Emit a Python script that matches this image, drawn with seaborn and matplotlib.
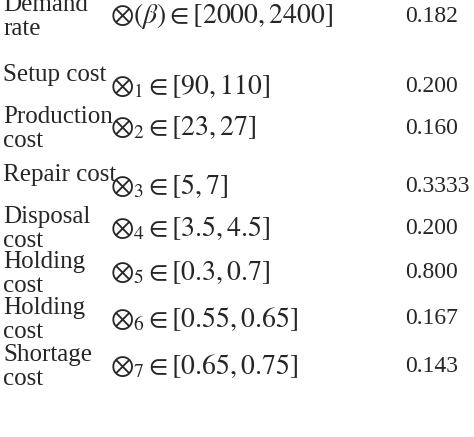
import matplotlib
matplotlib.use("Agg")
import matplotlib.pyplot as plt
import seaborn as sns

sns.set_style("white")
plt.rcParams['font.family'] = ['Liberation Serif', 'DejaVu Sans']
plt.rcParams['mathtext.fontset'] = 'stix'

labels = ["Demand\nrate", "Setup cost", "Production\ncost", "Repair cost",
          "Disposal\ncost", "Holding\ncost", "Holding\ncost", "Shortage\ncost"]
intervals = [r"$\otimes(\beta)\in[2000,2400]$", r"$\otimes_1\in[90,110]$",
             r"$\otimes_2\in[23,27]$", r"$\otimes_3\in[5,7]$",
             r"$\otimes_4\in[3.5,4.5]$", r"$\otimes_5\in[0.3,0.7]$",
             r"$\otimes_6\in[0.55,0.65]$", r"$\otimes_7\in[0.65,0.75]$"]
values = ["0.182", "0.200", "0.160", "0.3333", "0.200", "0.800", "0.167", "0.143"]

row_y = [-6, 64, 106, 164, 206, 251, 297, 344]  # top of each row in px

fig = plt.figure(figsize=(4.74, 4.37), dpi=100)
ax = fig.add_axes([0, 0, 1, 1])
ax.set_xlim(0, 474)
ax.set_ylim(437, 0)
ax.axis("off")

for lab, iv, v, y in zip(labels, intervals, values, row_y):
    ax.text(3, y, lab, fontsize=18, va="top", ha="left", linespacing=1.12)
    ax.text(110, y + 22, iv, fontsize=20, va="center", ha="left")
    ax.text(405, y + 22, v, fontsize=17, va="center", ha="left")

fig.savefig("out.png", dpi=100)
